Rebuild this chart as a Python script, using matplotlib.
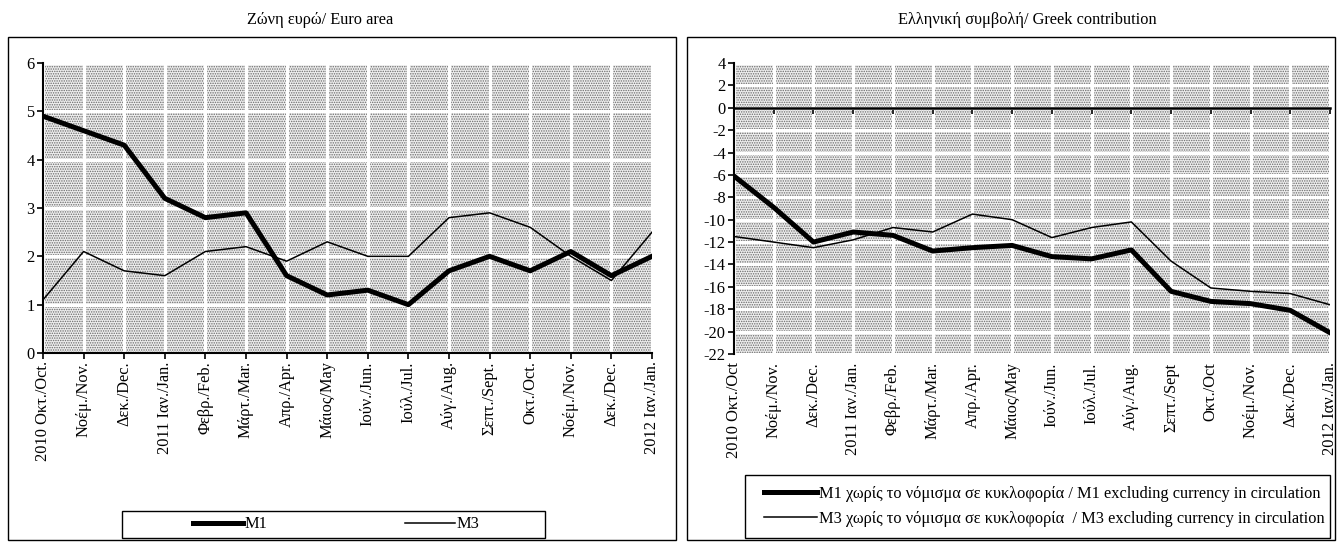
import numpy as np
import matplotlib
matplotlib.use('Agg')
import matplotlib.pyplot as plt
from matplotlib.patches import Rectangle
from matplotlib.lines import Line2D

plt.rcParams['font.family'] = ['Liberation Serif', 'DejaVu Serif']
plt.rcParams['axes.unicode_minus'] = False
plt.rcParams['hatch.linewidth'] = 0.7

# month labels (left and right panels differ slightly in punctuation)
months_ea = ["2010 Οκτ./Oct.", "Νοέμ./Nov.", "Δεκ./Dec.", "2011 Ιαν./Jan.", "Φεβρ./Feb.",
             "Μάρτ./Mar.", "Απρ./Apr.", "Μάιος/May", "Ιούν./Jun.", "Ιούλ./Jul.", "Αύγ./Aug.",
             "Σεπτ./Sept.", "Οκτ./Oct.", "Νοέμ./Nov.", "Δεκ./Dec.", "2012 Ιαν./Jan."]
months_gr = ["2010 Οκτ./Oct", "Νοέμ./Nov.", "Δεκ./Dec.", "2011 Ιαν./Jan.", "Φεβρ./Feb.",
             "Μάρτ./Mar.", "Απρ./Apr.", "Μάιος/May", "Ιούν./Jun.", "Ιούλ./Jul.", "Αύγ./Aug.",
             "Σεπτ./Sept", "Οκτ./Oct", "Νοέμ./Nov.", "Δεκ./Dec.", "2012 Ιαν./Jan."]

# euro area
ea_m1 = [4.9, 4.6, 4.3, 3.2, 2.8, 2.9, 1.6, 1.2, 1.3, 1.0, 1.7, 2.0, 1.7, 2.1, 1.6, 2.0]
ea_m3 = [1.1, 2.1, 1.7, 1.6, 2.1, 2.2, 1.9, 2.3, 2.0, 2.0, 2.8, 2.9, 2.6, 2.0, 1.5, 2.5]

# greek contribution
gr_m1 = [-6.1, -8.9, -12.0, -11.1, -11.4, -12.8, -12.5, -12.3, -13.3, -13.5, -12.7,
         -16.4, -17.3, -17.5, -18.1, -20.1]
gr_m3 = [-11.5, -12.0, -12.5, -11.8, -10.7, -11.1, -9.5, -10.0, -11.6, -10.7, -10.2,
         -13.7, -16.1, -16.4, -16.6, -17.6]

W, H = 1340, 543
FS = 11.8
fig = plt.figure(figsize=(W / 100, H / 100), dpi=100)


def fx(px):
    return px / W


def fy(py):
    return 1 - py / H


def stipple(ax):
    # dotted grey background with white gaps at the gridlines
    ax.add_patch(Rectangle((0, 0), 1, 1, transform=ax.transAxes, facecolor='#eeeeee',
                           hatch='.......', edgecolor='#6a6a6a', linewidth=0, zorder=0))
    ax.grid(True, color='white', linewidth=2.2, zorder=1)


# outer frames
for x0, x1 in [(8, 676), (687, 1335)]:
    fig.patches.append(Rectangle((fx(x0), fy(540)), fx(x1 - x0), (540 - 37) / H,
                                 transform=fig.transFigure, fill=False,
                                 edgecolor='black', linewidth=1.0))

fig.text(fx(320), fy(20), "Ζώνη ευρώ/ Euro area", ha='center', va='center', fontsize=FS)
fig.text(fx(1027), fy(20), "Ελληνική συμβολή/ Greek contribution", ha='center', va='center',
         fontsize=FS)

x = np.arange(len(months_ea))

# ---- left panel
ax1 = fig.add_axes([fx(43), fy(353), fx(652 - 43), (353 - 63) / H])
stipple(ax1)
ax1.plot(x, ea_m1, color='black', linewidth=3.6, zorder=3)
ax1.plot(x, ea_m3, color='black', linewidth=1.1, zorder=3)
ax1.set_xlim(0, 15)
ax1.set_ylim(0, 6)
ax1.set_yticks(range(0, 7))
ax1.set_xticks(x)
ax1.set_xticklabels(months_ea, rotation=90, va='top', ha='center')
for s in ['top', 'right']:
    ax1.spines[s].set_visible(False)
for s in ['left', 'bottom']:
    ax1.spines[s].set_linewidth(1.5)
ax1.tick_params(direction='out', length=4, width=1.2, labelsize=FS, pad=2)

# ---- right panel
ax2 = fig.add_axes([fx(734), fy(354), fx(1330 - 734), (354 - 63) / H])
stipple(ax2)
ax2.plot(x, gr_m1, color='black', linewidth=3.6, zorder=3)
ax2.plot(x, gr_m3, color='black', linewidth=1.1, zorder=3)
ax2.set_xlim(0, 15)
ax2.set_ylim(-22, 4)
ax2.set_yticks(range(-22, 5, 2))
ax2.set_xticks(x)
ax2.spines['top'].set_visible(False)
ax2.spines['right'].set_visible(False)
ax2.spines['bottom'].set_position(('data', 0))
ax2.spines['bottom'].set_linewidth(1.8)
ax2.spines['bottom'].set_zorder(4)
ax2.spines['left'].set_linewidth(1.5)
ax2.tick_params(direction='out', length=4, width=1.2, labelsize=FS, pad=2)
ax2.tick_params(axis='x', labelbottom=False)
sec = ax2.secondary_xaxis('bottom')
sec.set_xticks(x)
sec.set_xticklabels(months_gr, rotation=90, va='top', ha='center')
sec.tick_params(length=0, labelsize=FS, pad=6)
sec.spines['bottom'].set_visible(False)

# ---- legends
h1 = [Line2D([], [], color='black', linewidth=3.6), Line2D([], [], color='black', linewidth=1.1)]

fig.patches.append(Rectangle((fx(122), fy(538)), fx(545 - 122), (538 - 511) / H,
                             transform=fig.transFigure, fill=False, edgecolor='black',
                             linewidth=1.0))
fig.legend(h1, ["M1", "M3"], loc='center', bbox_to_anchor=(fx(336), fy(524.5)), ncol=2,
           frameon=False, fontsize=FS, handlelength=3.05, handletextpad=0.1,
           columnspacing=8.4, borderpad=0)

fig.patches.append(Rectangle((fx(745), fy(538)), fx(1330 - 745), (538 - 475) / H,
                             transform=fig.transFigure, fill=False, edgecolor='black',
                             linewidth=1.0))
fig.legend(h1, ["M1 χωρίς το νόμισμα σε κυκλοφορία / M1 excluding currency in circulation",
                "M3 χωρίς το νόμισμα σε κυκλοφορία  / M3 excluding currency in circulation"],
           loc='center left', bbox_to_anchor=(fx(764), fy(506.5)), frameon=False,
           fontsize=FS, handlelength=3.25, handletextpad=0.1, labelspacing=0.55,
           borderpad=0, borderaxespad=0)

fig.savefig('out.png', dpi=100)
